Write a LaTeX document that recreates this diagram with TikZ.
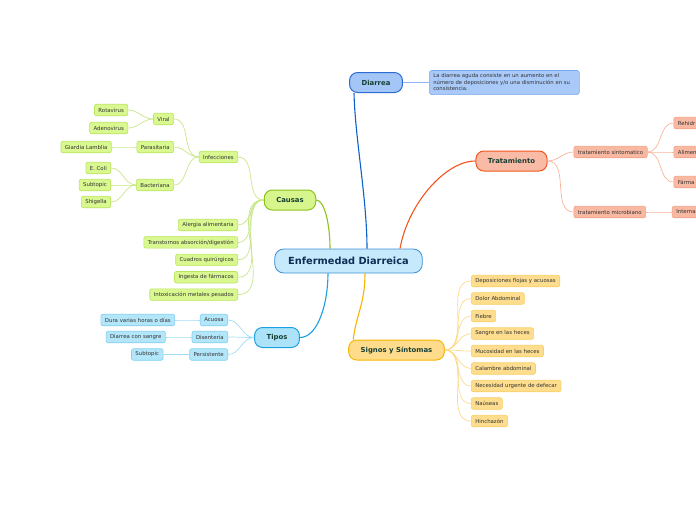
\documentclass[tikz,border=0pt]{standalone}
\usepackage{fontspec}
\setmainfont{DejaVu Sans}
\usetikzlibrary{positioning}
\definecolor{ink}{HTML}{173F35}
\definecolor{leafink}{HTML}{333333}
\definecolor{rootfill}{HTML}{C6E9FB}
\definecolor{rootdraw}{HTML}{3D8FD6}
\definecolor{rootink}{HTML}{0D2E55}
\definecolor{defill}{HTML}{A3C6F7}
\definecolor{dedraw}{HTML}{2C6BD4}
\definecolor{delink}{HTML}{0A62C9}
\definecolor{notefill}{HTML}{A9C9F8}
\definecolor{notedraw}{HTML}{7AA8EE}
\definecolor{notelink}{HTML}{8DB6F0}
\definecolor{trfill}{HTML}{F9BBA6}
\definecolor{trdraw}{HTML}{F2561D}
\definecolor{trleaf}{HTML}{F9B8A2}
\definecolor{trleafdraw}{HTML}{F3A085}
\definecolor{trlink}{HTML}{F9B49C}
\definecolor{cafill}{HTML}{D6F58C}
\definecolor{cadraw}{HTML}{8DC21F}
\definecolor{caleaf}{HTML}{D9F890}
\definecolor{caleafdraw}{HTML}{B9E45E}
\definecolor{calink}{HTML}{C8E68A}
\definecolor{tifill}{HTML}{ACE3F8}
\definecolor{tidraw}{HTML}{1BA0E2}
\definecolor{tileaf}{HTML}{B4E6FA}
\definecolor{tileafdraw}{HTML}{7FD0F2}
\definecolor{tilink}{HTML}{A3DCF5}
\definecolor{sifill}{HTML}{FEDC8C}
\definecolor{sidraw}{HTML}{F7B500}
\definecolor{sileaf}{HTML}{FEDE8E}
\definecolor{sileafdraw}{HTML}{F8CF63}
\definecolor{silink}{HTML}{FCDB8C}

\begin{document}
\begin{tikzpicture}[x=1pt,y=-1pt,
    topic/.style={draw,line width=1pt,rounded corners=8pt,inner xsep=12pt,inner ysep=0pt,
      minimum height=20pt,font=\fontsize{6.9}{8}\selectfont\bfseries,text=ink},
    leaf/.style={draw,line width=0.6pt,rounded corners=2pt,inner xsep=4pt,inner ysep=0pt,
      minimum height=11.5pt,font=\fontsize{5.4}{6}\selectfont,text=leafink},
    cut/.style={leaf,text width=30pt,align=left},
    branch/.style={line width=1.1pt},
    link/.style={line width=0.7pt}]
  \useasboundingbox (0,0) rectangle (696,520);
  \clip (0,0) rectangle (696,520);

  \node[draw=rootdraw,fill=rootfill,line width=0.8pt,rounded corners=9pt,inner xsep=13.5pt,
    minimum height=24pt,font=\fontsize{9.8}{11}\selectfont\bfseries,text=rootink]
    (root) at (348.5,261) {Enfermedad Diarreica};

  \node[topic,fill=defill,draw=dedraw] (diarrea) at (376,82.5) {Diarrea};
  \node[draw=notedraw,fill=notefill,line width=0.6pt,rounded corners=2.5pt,anchor=west,
    text width=142pt,align=left,inner xsep=4pt,inner ysep=3.5pt,
    font=\fontsize{5.3}{6.5}\selectfont,text=leafink] (nota) at (429,82.5)
    {La diarrea aguda consiste en un aumento en el\\
     número de deposiciones y/o una disminución en su\\
     consistencia.};
  \draw[link,notelink] (diarrea) -- (nota);

  \node[topic,fill=trfill,draw=trdraw] (trat) at (511.5,161) {Tratamiento};
  \node[leaf,fill=trleaf,draw=trleafdraw,right=26pt of trat,yshift=9pt] (sinto) {tratamiento sintomatico};
  \node[leaf,fill=trleaf,draw=trleafdraw,right=26pt of trat,yshift=-51pt] (micro) {tratamiento microbiano};
  \node[cut,fill=trleaf,draw=trleafdraw,right=26pt of sinto,yshift=29pt] (rehid) {Rehidr};
  \node[cut,fill=trleaf,draw=trleafdraw,right=26pt of sinto] (alim) {Alimen};
  \node[cut,fill=trleaf,draw=trleafdraw,right=26pt of sinto,yshift=-30pt] (farma) {Fárma};
  \node[cut,fill=trleaf,draw=trleafdraw,right=26pt of micro] (inter) {Interna};
  \foreach \a/\b in {trat/sinto,trat/micro,sinto/rehid,sinto/alim,sinto/farma,micro/inter}
    \draw[link,trlink] (\a.east) to[out=0,in=180] (\b.west);

  \node[topic,fill=cafill,draw=cadraw] (causas) at (290,200) {Causas};
  \node[leaf,fill=caleaf,draw=caleafdraw,anchor=east] (infec) at (238,157) {Infecciones};
  \node[leaf,fill=caleaf,draw=caleafdraw,left=25pt of infec,yshift=38pt] (viral) {Viral};
  \node[leaf,fill=caleaf,draw=caleafdraw,left=25pt of infec,yshift=10pt] (parasit) {Parasitaria};
  \node[leaf,fill=caleaf,draw=caleafdraw,left=25pt of infec,yshift=-28pt] (bacter) {Bacteriana};
  \node[leaf,fill=caleaf,draw=caleafdraw,left=25pt of viral,yshift=9pt] (rota) {Rotavirus};
  \node[leaf,fill=caleaf,draw=caleafdraw,left=25pt of viral,yshift=-9pt] (adeno) {Adenovirus};
  \node[leaf,fill=caleaf,draw=caleafdraw,left=25pt of parasit] (giardia) {Giardia Lamblia};
  \node[leaf,fill=caleaf,draw=caleafdraw,left=25pt of bacter,yshift=17pt] (ecoli) {E. Coli};
  \node[leaf,fill=caleaf,draw=caleafdraw,left=25pt of bacter] (subbac) {Subtopic};
  \node[leaf,fill=caleaf,draw=caleafdraw,left=25pt of bacter,yshift=-17pt] (shig) {Shigella};
  \foreach \y/\t [count=\i] in {225/Alergia alimentaria,242.4/{Transtornos absorción/digestión},
      259.8/Cuadros quirúrgicos,277.2/Ingesta de fármacos,294.6/Intoxicación metales pesados}
    \node[leaf,fill=caleaf,draw=caleafdraw,anchor=east] (ca\i) at (238,\y) {\t};
  \foreach \a/\b in {causas/infec,causas/ca1,causas/ca2,causas/ca3,causas/ca4,causas/ca5,
      infec/viral,infec/parasit,infec/bacter,viral/rota,viral/adeno,parasit/giardia,
      bacter/ecoli,bacter/subbac,bacter/shig}
    \draw[link,calink] (\a.west) to[out=180,in=0] (\b.east);

  \node[topic,fill=tifill,draw=tidraw] (tipos) at (277,337.5) {Tipos};
  \node[leaf,fill=tileaf,draw=tileafdraw,anchor=east] (acuosa) at (228,320) {Acuosa};
  \node[leaf,fill=tileaf,draw=tileafdraw,anchor=east] (disent) at (228,337) {Disenteria};
  \node[leaf,fill=tileaf,draw=tileafdraw,anchor=east] (persist) at (228,354.5) {Persistente};
  \node[leaf,fill=tileaf,draw=tileafdraw,left=25pt of acuosa] (dura) {Dura varias horas o días};
  \node[leaf,fill=tileaf,draw=tileafdraw,left=26pt of disent] (sangre) {Diarrea con sangre};
  \node[leaf,fill=tileaf,draw=tileafdraw,left=26pt of persist] (subtip) {Subtopic};
  \foreach \a/\b in {tipos/acuosa,tipos/disent,tipos/persist,acuosa/dura,disent/sangre,persist/subtip}
    \draw[link,tilink] (\a.west) to[out=180,in=0] (\b.east);

  \node[topic,fill=sifill,draw=sidraw] (signos) at (396.5,350) {Signos y Síntomas};
  \foreach \t [count=\i] in {Deposiciones flojas y acuosas,Dolor Abdominal,Fiebre,
      Sangre en las heces,Mucosidad en las heces,Calambre abdominal,
      Necesidad urgente de defecar,Naúseas,Hinchazón} {
    \node[leaf,fill=sileaf,draw=sileafdraw,anchor=west] (si\i) at (471,263.5+17.5*\i) {\t};
    \draw[link,silink] (signos.east) to[out=0,in=180] (si\i.west);
  }

  \draw[branch,delink] ([xshift=18.5pt]root.north) .. controls +(0,-50) and +(1,45) .. ([xshift=-22pt]diarrea.south);
  \draw[branch,trdraw] ([xshift=51.5pt]root.north) .. controls +(8,-45) and +(-30,0) .. (trat.west);
  \draw[branch,cadraw] ([xshift=-18.5pt]root.north) .. controls +(0,-25) and +(8,0) .. (causas.east);
  \draw[branch,tidraw] ([xshift=-20.5pt]root.south) .. controls +(0,30) and +(18,0) .. (tipos.east);
  \draw[branch,sidraw] ([xshift=16.5pt]root.south) .. controls +(0,30) and +(3,-25) .. ([xshift=5pt]signos.north west);
\end{tikzpicture}
\end{document}
